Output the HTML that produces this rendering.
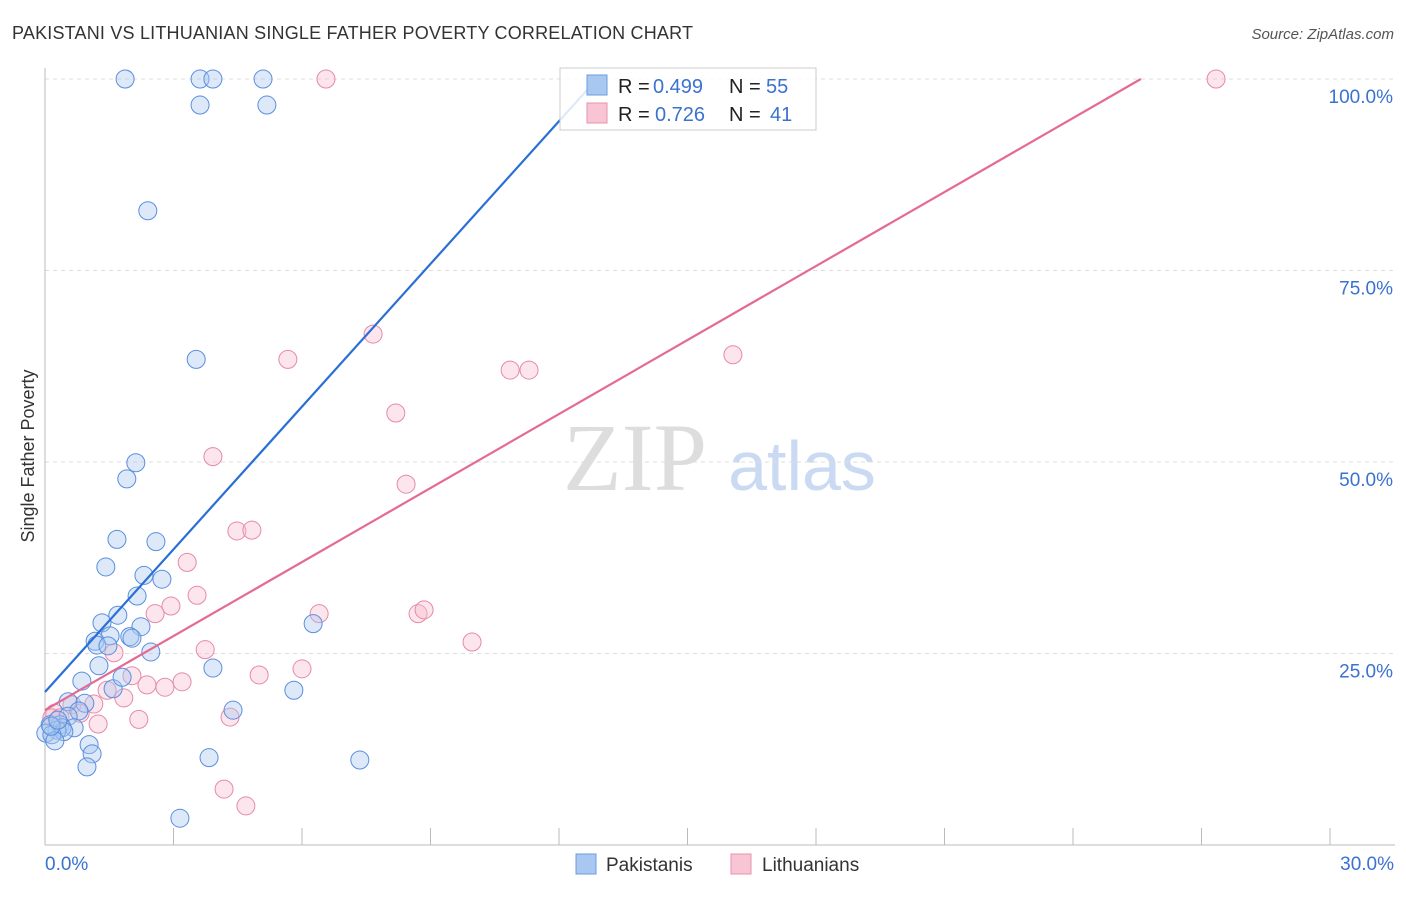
<!DOCTYPE html>
<html><head><meta charset="utf-8"><style>
body{margin:0;background:#fff;font-family:"Liberation Sans",sans-serif}
</style></head><body>
<svg id="chart" width="1406" height="892" xmlns="http://www.w3.org/2000/svg">
<text x="12" y="39" font-size="18" textLength="681" fill="#333">PAKISTANI VS LITHUANIAN SINGLE FATHER POVERTY CORRELATION CHART</text>
<text x="1394" y="39" font-size="15" fill="#555" font-style="italic" text-anchor="end">Source: ZipAtlas.com</text>
<text x="0" y="0" transform="translate(34,456) rotate(-90)" font-size="18" fill="#333" text-anchor="middle">Single Father Poverty</text>
<g>
<text x="635" y="490" font-family="Liberation Serif,serif" font-size="96" fill="#ddd" text-anchor="middle">ZIP</text>
<text x="802" y="490" font-size="70" fill="#c9daf2" text-anchor="middle">atlas</text>
</g>
<g id="grid"></g><g id="axes"></g><g id="marks"></g>
<g>
<rect x="560" y="68" width="256" height="62" fill="#fff" fill-opacity="0.85" stroke="#ccc"/>
<rect x="587" y="75" width="20" height="20" fill="#a9c8f0" stroke="#6a9be0"/>
<rect x="587" y="103" width="20" height="20" fill="#f8c5d5" stroke="#e890ae"/>
<text x="618" y="93" font-size="20" fill="#222">R =</text>
<text x="653" y="93" font-size="20" fill="#3a72d0">0.499</text>
<text x="729" y="93" font-size="20" fill="#222">N =</text>
<text x="766" y="93" font-size="20" fill="#3a72d0">55</text>
<text x="618" y="121" font-size="20" fill="#222">R =</text>
<text x="655" y="121" font-size="20" fill="#3a72d0">0.726</text>
<text x="729" y="121" font-size="20" fill="#222">N =</text>
<text x="770" y="121" font-size="20" fill="#3a72d0">41</text>
</g>
<g>
<rect x="576" y="854" width="20" height="20" fill="#a9c8f0" stroke="#6a9be0"/>
<text x="606" y="871" font-size="19" fill="#333">Pakistanis</text>
<rect x="731" y="854" width="20" height="20" fill="#f8c5d5" stroke="#e890ae"/>
<text x="762" y="871" font-size="19" fill="#333">Lithuanians</text>
</g>
</svg>
<script>
const blueX=[1.87,3.62,3.92,5.09,3.62,5.18,2.40,3.53,2.12,1.91,1.68,2.59,1.42,2.31,2.73,2.15,1.70,1.33,2.24,1.52,1.17,1.98,2.03,1.21,1.47,2.47,1.26,3.92,0.86,1.59,1.80,5.81,0.54,0.93,4.39,0.79,0.54,0.35,0.12,0.68,0.40,0.28,0.44,0.02,0.16,0.23,1.03,1.10,3.83,7.35,0.98,3.15,6.26,0.14,0.30];
const blueY=[100,100,100,100,96.6,96.6,82.8,63.4,49.9,47.8,39.9,39.6,36.3,35.2,34.7,32.5,30.0,29.0,28.5,27.3,26.6,27.2,27.0,26.1,26.0,25.2,23.4,23.1,21.4,20.4,21.9,20.2,18.7,18.5,17.6,17.5,16.8,15.7,15.7,15.3,15.3,15.0,14.8,14.6,14.4,13.6,13.1,11.9,11.4,11.1,10.2,3.5,28.9,15.5,16.3];
const pinkX=[6.56,27.34,7.66,5.67,16.06,10.86,11.30,8.19,8.43,3.92,4.48,4.83,3.32,3.55,2.94,2.57,6.40,8.71,8.85,9.97,1.61,3.74,2.03,5.00,6.00,2.38,2.80,3.20,1.45,1.84,1.14,0.63,0.82,2.19,1.24,4.32,0.23,0.16,4.18,4.69,0.35];
const pinkY=[100,100,66.7,63.4,64.0,62.0,62.0,56.4,47.1,50.7,41.0,41.1,36.9,32.6,31.2,30.2,30.2,30.2,30.7,26.5,25.1,25.5,22.1,22.2,23.0,20.9,20.6,21.3,20.2,19.2,18.4,18.3,17.2,16.4,15.8,16.7,17.2,16.6,7.3,5.1,16.6];
const blueTrend=[19.97,6.21];
const pinkTrend=[17.62,3.22];
const yTicks=[25,50,75,100];
const xTickLabels=["0.0%","30.0%"];

const NS="http://www.w3.org/2000/svg";
const X0=45,X1=1330,Y0=845,YTOP=79;
const sx=v=>X0+(v/30)*(X1-X0);
const sy=v=>Y0-(v/100)*(Y0-YTOP);
function mk(tag,attrs,parent){const e=document.createElementNS(NS,tag);for(const k in attrs)e.setAttribute(k,attrs[k]);document.getElementById(parent).appendChild(e);return e;}

yTicks.forEach(t=>{
  const l=mk('line',{x1:X0,x2:1395,y1:sy(t),y2:sy(t),stroke:'#ddd','stroke-dasharray':'4,4'},'grid');
  
  
  const tx=mk('text',{x:1393,y:sy(t)+24,'font-size':19,fill:'#3a72d0','text-anchor':'end'},'grid');
  tx.textContent=t.toFixed(1)+'%';
  
  
});
let a=mk('line',{x1:X0,x2:X0,y1:68,y2:Y0,stroke:'#bbb'},'axes');


a=mk('line',{x1:X0,x2:1395,y1:Y0,y2:Y0,stroke:'#bbb'},'axes');


for(let i=0;i<=10;i++){
  const t=mk('line',{x1:sx(i*3),x2:sx(i*3),y1:828,y2:Y0,stroke:'#bbb'},'axes');
  
  
}
[[0,'start'],[30,'end']].forEach((p,i)=>{
  const t=mk('text',{x:i?1394:45,y:870,'font-size':19,fill:'#3a72d0','text-anchor':p[1]},'axes');
  t.textContent=xTickLabels[i];
  
  
});
function pts(xs,ys,fill,stroke,name){
  xs.forEach((x,i)=>{
    const c=mk('circle',{cx:sx(x),cy:sy(ys[i]),r:9,fill:fill,'fill-opacity':0.4,stroke:stroke,'stroke-width':1},'marks');
    
    
  });
}
pts(pinkX,pinkY,'#f8bfd0','#e58aa8','point-lithuanian');
pts(blueX,blueY,'#a9c8f0','#5a8ede','point-pakistani');
function trend(tr,color,name){
  const xEnd=Math.min(30,(100-tr[0])/tr[1]);
  const l=mk('line',{x1:sx(0),y1:sy(tr[0]),x2:sx(xEnd),y2:sy(tr[0]+tr[1]*xEnd),stroke:color,'stroke-width':2.2},'marks');
  
  
}
trend(blueTrend,'#2a6fd6','trendline-pakistanis');
trend(pinkTrend,'#e46a94','trendline-lithuanians');
</script>
</body></html>
